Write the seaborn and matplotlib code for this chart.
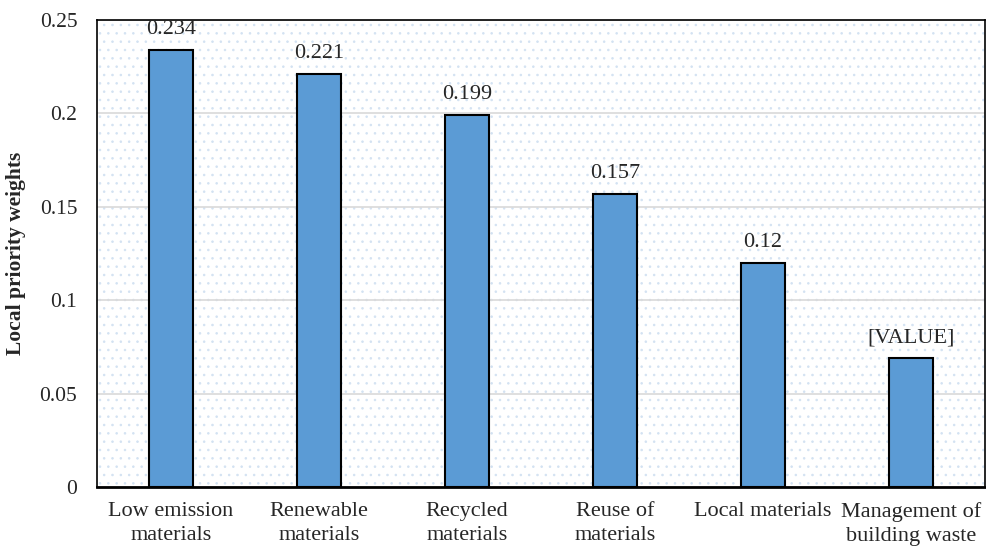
import matplotlib
matplotlib.use("Agg")
import matplotlib.pyplot as plt
import seaborn as sns
import pandas as pd

# data
categories = ["Low emission\nmaterials", "Renewable\nmaterials", "Recycled\nmaterials",
              "Reuse of\nmaterials", "Local materials", "Management of\nbuilding waste"]
weights = [0.234, 0.221, 0.199, 0.157, 0.12, 0.069]
value_labels = ["0.234", "0.221", "0.199", "0.157", "0.12", "[VALUE]"]

df = pd.DataFrame({"criterion": categories, "weight": weights})

sns.set_style("white")
plt.rcParams["font.family"] = ["Liberation Serif", "DejaVu Serif"]
plt.rcParams["hatch.color"] = "#d3e2f2"
plt.rcParams["hatch.linewidth"] = 0.6

fig = plt.figure(figsize=(9.87, 5.53), dpi=100)
ax = fig.add_axes([0.098, 0.119, 0.9, 0.845])

# dotted background
ax.patch.set_facecolor("white")
ax.patch.set_hatch("..")
ax.patch.set_edgecolor("#d3e2f2")
ax.patch.set_linewidth(0)

sns.barplot(data=df, x="criterion", y="weight", color="#5B9BD5",
            edgecolor="black", linewidth=1.5, width=0.3, saturation=1, ax=ax, zorder=3)

ax.bar_label(ax.containers[0], labels=value_labels, padding=8, fontsize=16)

ax.set_ylim(0, 0.25)
ax.set_yticks([0, 0.05, 0.1, 0.15, 0.2, 0.25])
ax.set_yticklabels(["0", "0.05", "0.1", "0.15", "0.2", "0.25"])
ax.yaxis.grid(True, color="#d9d9d9", linewidth=1.2, zorder=1)
ax.set_axisbelow(True)
ax.set_xlabel("")
ax.set_ylabel("Local priority weights", fontsize=15.5, fontweight="bold", labelpad=10)
ax.tick_params(axis="y", length=0, labelsize=15.5, pad=14)
ax.tick_params(axis="x", length=0, labelsize=16, pad=11)
for lbl in ax.get_xticklabels():
    lbl.set_linespacing(1.35)

for s in ax.spines.values():
    s.set_visible(True)
    s.set_color("black")
    s.set_linewidth(1.2)
ax.spines["bottom"].set_linewidth(2)

fig.savefig("out.png", dpi=100)
